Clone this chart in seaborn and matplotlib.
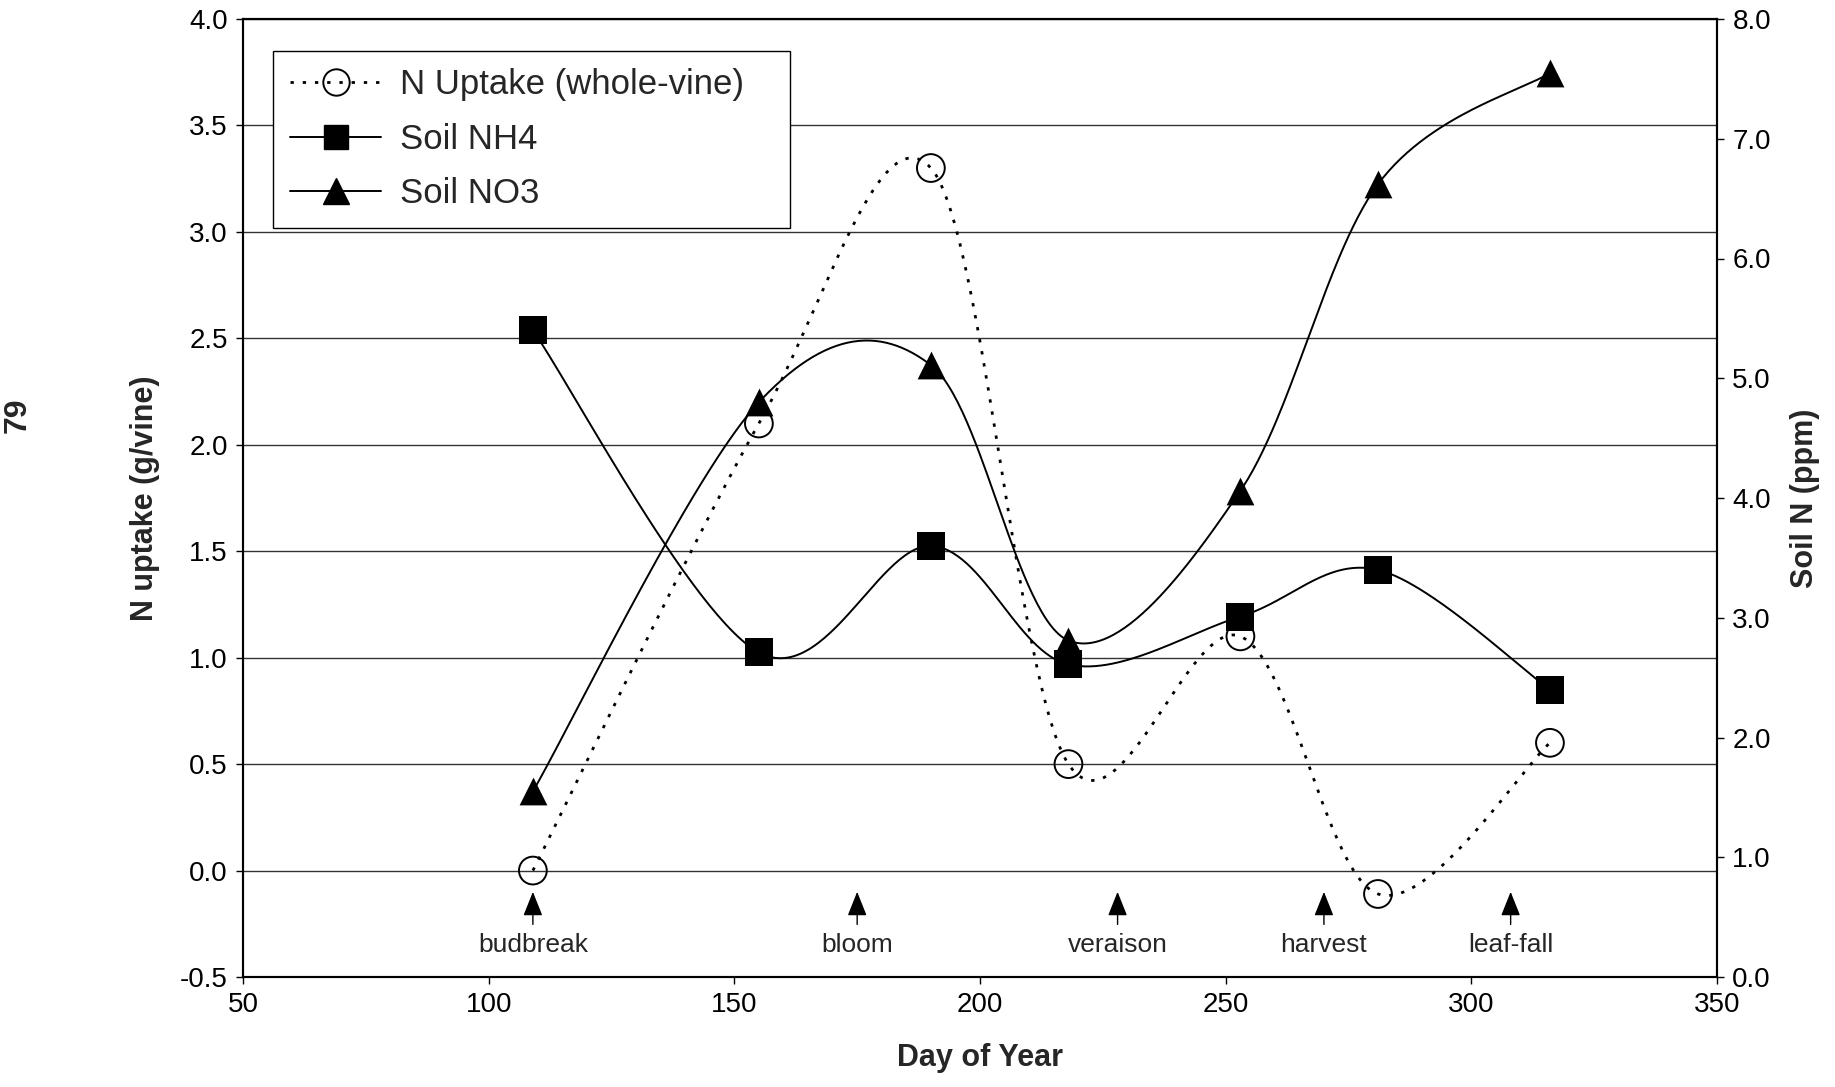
import numpy as np
import pandas as pd
import matplotlib
matplotlib.use("Agg")
import matplotlib.pyplot as plt
import seaborn as sns
from matplotlib.lines import Line2D

# ---- data ----
days = [109, 155, 190, 218, 253, 281, 316]
n_uptake = [0.0, 2.1, 3.3, 0.5, 1.1, -0.11, 0.6]
soil_nh4 = [5.40, 2.71, 3.60, 2.61, 3.01, 3.40, 2.40]
soil_no3 = [1.55, 4.80, 5.11, 2.81, 4.06, 6.62, 7.55]
event_days = [109, 175, 228, 270, 308]
event_labels = ["budbreak", "bloom", "veraison", "harvest", "leaf-fall"]
left_ticks = [-0.5, 0.0, 0.5, 1.0, 1.5, 2.0, 2.5, 3.0, 3.5, 4.0]
right_ticks = [0, 1, 2, 3, 4, 5, 6, 7, 8]
x_ticks = [50, 100, 150, 200, 250, 300, 350]
legend_labels = ["N Uptake (whole-vine)", "Soil NH4", "Soil NO3"]


def smooth(x, y, n=60):
    P = np.column_stack([x, y]).astype(float)
    out = []
    m = len(P)
    for i in range(m - 1):
        p0 = P[i - 1] if i > 0 else P[i]
        p1, p2 = P[i], P[i + 1]
        p3 = P[i + 2] if i + 2 < m else P[i + 1]
        c1 = p1 + (p2 - p0) / 6.0
        c2 = p2 - (p3 - p1) / 6.0
        t = np.linspace(0, 1, n, endpoint=(i == m - 2))[:, None]
        B = (1 - t) ** 3 * p1 + 3 * (1 - t) ** 2 * t * c1 + 3 * (1 - t) * t ** 2 * c2 + t ** 3 * p2
        out.append(B)
    return np.vstack(out)


sns.set_style("white")
plt.rcParams["font.family"] = ["Liberation Sans", "DejaVu Sans"]

fig = plt.figure(figsize=(18.35, 10.87), dpi=100)
ax = fig.add_axes([243 / 1835, 1 - 977 / 1087, (1717 - 243) / 1835, (977 - 19) / 1087])
ax2 = ax.twinx()

# smoothed curves
su = smooth(days, n_uptake)
df_u = pd.DataFrame({"x": su[:, 0], "y": su[:, 1]})
sns.lineplot(data=df_u, x="x", y="y", ax=ax, sort=False, color="black",
             lw=2.0, linestyle=(0, (1.2, 3.2)), estimator=None)
sns.scatterplot(x=days, y=n_uptake, ax=ax, marker="o", s=400, facecolor="none",
                edgecolor="black", linewidth=1.4, zorder=5)

for vals, mk, s in [(soil_nh4, "s", 380), (soil_no3, "^", 400)]:
    sm = smooth(days, vals)
    dfs = pd.DataFrame({"x": sm[:, 0], "y": sm[:, 1]})
    sns.lineplot(data=dfs, x="x", y="y", ax=ax2, sort=False, color="black",
                 lw=1.4, estimator=None)
    sns.scatterplot(x=days, y=vals, ax=ax2, marker=mk, s=s, color="black",
                    edgecolor="black", linewidth=0, zorder=5)

# axes setup
ax.set_xlim(50, 350)
ax.set_ylim(-0.5, 4.0)
ax2.set_ylim(0, 8)
ax.set_xticks(x_ticks)
ax.set_yticks(left_ticks)
ax.set_yticklabels([f"{v:.1f}" for v in left_ticks])
ax2.set_yticks(right_ticks)
ax2.set_yticklabels([f"{v:.1f}" for v in right_ticks])
ax.grid(axis="y", color="#333333", lw=1.0)
ax.grid(axis="x", visible=False)
ax2.grid(False)
for a in (ax, ax2):
    for sp in a.spines.values():
        sp.set_visible(True)
        sp.set_color("black")
        sp.set_linewidth(1.5)
ax.tick_params(axis="both", direction="out", length=5, width=1, labelsize=20,
               colors="black", pad=6, left=True, bottom=True)
ax2.tick_params(axis="y", direction="out", length=5, width=1, labelsize=20,
                colors="black", pad=6, right=True)
ax.set_xlabel("Day of Year", fontsize=22, fontweight="bold", labelpad=18)
ax.set_ylabel("N uptake (g/vine)", fontsize=22, fontweight="bold", labelpad=14)
ax2.set_ylabel("Soil N (ppm)", fontsize=22, fontweight="bold", labelpad=14, rotation=90)

# phenology arrows
for d, lab in zip(event_days, event_labels):
    ax.annotate("", xy=(d, -0.10), xytext=(d, -0.253),
                arrowprops=dict(arrowstyle="-|>,head_length=0.75,head_width=0.3",
                                mutation_scale=20, color="black", lw=1.0,
                                shrinkA=0, shrinkB=0))
    ax.text(d, -0.352, lab, ha="center", va="center", fontsize=19)

# legend
handles = [
    Line2D([], [], color="black", lw=2.0, linestyle=(0, (1.2, 3.2)), marker="o",
           markersize=19, markerfacecolor="none", markeredgecolor="black", markeredgewidth=1.4),
    Line2D([], [], color="black", lw=1.4, marker="s", markersize=17),
    Line2D([], [], color="black", lw=1.4, marker="^", markersize=19),
]
leg = ax2.legend(handles, [legend_labels[0] + "   "] + legend_labels[1:],
                 loc="upper left", bbox_to_anchor=(0.0204, 0.9666), borderaxespad=0,
                 fontsize=25, frameon=True, fancybox=False, edgecolor="black",
                 framealpha=1, handlelength=2.6, borderpad=0.5, labelspacing=0.62,
                 handletextpad=0.55)
leg.get_frame().set_linewidth(1.0)

fig.text(18 / 1835, 1 - 415 / 1087, "79", rotation=90, fontsize=23,
         fontweight="bold", ha="center", va="center")

fig.savefig("out.png", dpi=100)
